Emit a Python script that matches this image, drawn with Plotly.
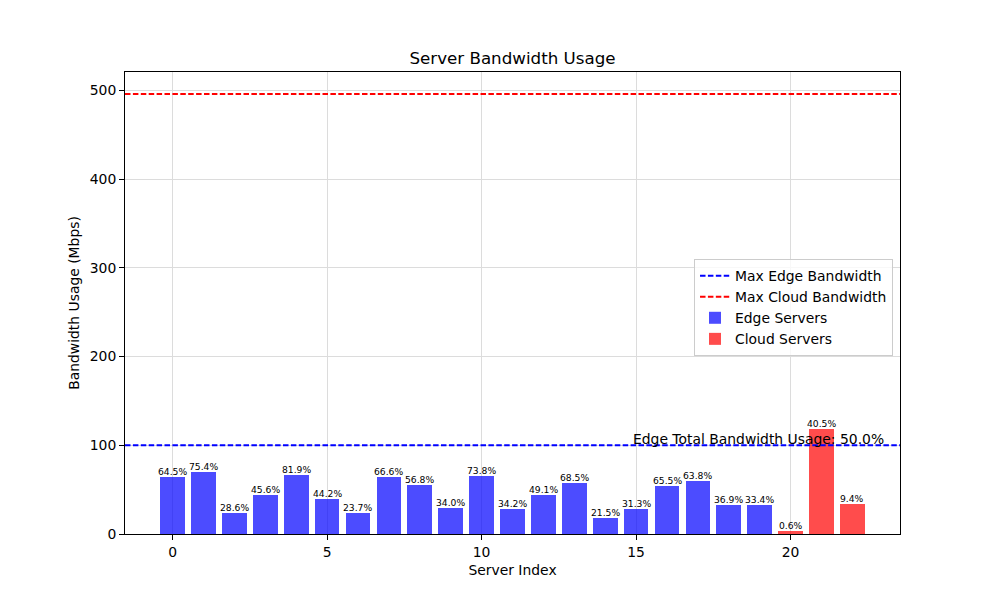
import plotly.graph_objects as go

edge_idx = list(range(20))
edge_usage = [63.8, 69.8, 23.6, 43.9, 66.4, 39.4, 23.6, 63.8, 55.2, 29.6,
              65.3, 28.2, 43.9, 57.4, 18.4, 28.2, 54.0, 59.7, 32.7, 32.7]
edge_pct = [64.5, 75.4, 28.6, 45.6, 81.9, 44.2, 23.7, 66.6, 56.8, 34.0,
            73.8, 34.2, 49.1, 68.5, 21.5, 31.3, 65.5, 63.8, 36.9, 33.4]
cloud_idx = [20, 21, 22]
cloud_usage = [3.4, 118.2, 33.8]
cloud_pct = [0.6, 40.5, 9.4]
max_edge = 100
max_cloud = 496
edge_total_pct = 50.0

FONT = "DejaVu Sans"
xr = [-1.54, 23.54]
yr = [0, max_cloud * 1.05]
DASH = "5.5px,2.4px"

fig = go.Figure()
fig.add_trace(go.Scatter(x=xr, y=[max_edge, max_edge], mode="lines",
                         line=dict(color="#0000ff", dash=DASH, width=2),
                         name="Max Edge Bandwidth"))
fig.add_trace(go.Scatter(x=xr, y=[max_cloud, max_cloud], mode="lines",
                         line=dict(color="#ff0000", dash=DASH, width=2),
                         name="Max Cloud Bandwidth"))
fig.add_trace(go.Bar(x=edge_idx, y=edge_usage, width=0.8, marker_color="rgba(0,0,255,0.7)",
                     marker_line_width=0, name="Edge Servers"))
fig.add_trace(go.Bar(x=cloud_idx, y=cloud_usage, width=0.8, marker_color="rgba(255,0,0,0.7)",
                     marker_line_width=0, name="Cloud Servers"))

for xs, ys, ps in [(edge_idx, edge_usage, edge_pct), (cloud_idx, cloud_usage, cloud_pct)]:
    for x, y, p in zip(xs, ys, ps):
        fig.add_annotation(x=x, y=y, text=f"{p:.1f}%", showarrow=False,
                           xanchor="center", yanchor="bottom", yshift=-2,
                           font=dict(family=FONT, size=9.2, color="black"))

fig.add_annotation(x=15, y=max_edge, text=f"Edge Total Bandwidth Usage: {edge_total_pct:.1f}%",
                   showarrow=False, xanchor="left", yanchor="bottom", yshift=-4, xshift=-5,
                   font=dict(family=FONT, size=13.9, color="black"))

fig.update_layout(
    width=1000, height=600,
    margin=dict(l=125, r=100, t=72, b=66),
    plot_bgcolor="white", paper_bgcolor="white",
    font=dict(family=FONT, size=13.9, color="black"),
    title=dict(text="Server Bandwidth Usage", x=0.5125, xanchor="center",
               y=1 - 58 / 600, yanchor="middle", font=dict(size=16.7)),
    showlegend=True,
    legend=dict(x=0.991, xanchor="right", y=0.595, yanchor="top",
                bordercolor="#cccccc", borderwidth=1, bgcolor="rgba(255,255,255,0.8)",
                font=dict(size=13.9), traceorder="normal", tracegroupgap=0),
    bargap=0,
)
fig.update_xaxes(range=xr, tickvals=[0, 5, 10, 15, 20], showgrid=True, gridcolor="#dcdcdc",
                 gridwidth=1, zeroline=False, showline=True, linecolor="black", mirror=True,
                 ticks="outside", ticklen=5, tickcolor="black", tickfont=dict(size=13.9),
                 title=dict(text="Server Index", standoff=6, font=dict(size=13.9)))
fig.update_yaxes(range=yr, tickvals=[0, 100, 200, 300, 400, 500], showgrid=True,
                 gridcolor="#dcdcdc", gridwidth=1, zeroline=False, showline=True,
                 linecolor="black", mirror=True, ticks="outside", ticklen=5, tickcolor="black",
                 tickfont=dict(size=13.9),
                 title=dict(text="Bandwidth Usage (Mbps)", standoff=6, font=dict(size=13.9)))

fig.write_html("out.html")
